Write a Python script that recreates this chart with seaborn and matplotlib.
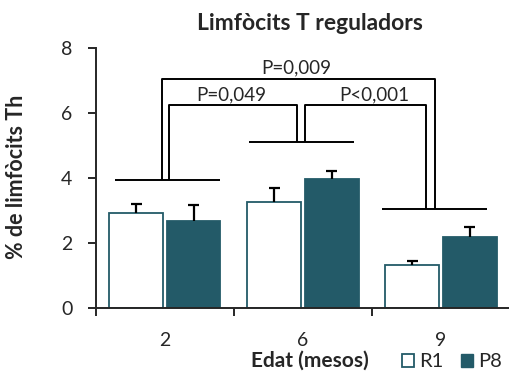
import matplotlib
matplotlib.use("Agg")
import matplotlib.pyplot as plt
from matplotlib.patches import Patch
import seaborn as sns
import pandas as pd

# ---- data ----
ages = ["2", "6", "9"]
groups = ["R1", "P8"]
r1_mean = [2.93, 3.26, 1.32]
r1_err = [0.28, 0.44, 0.14]
p8_mean = [2.68, 3.96, 2.19]
p8_err = [0.48, 0.26, 0.31]
pvals = ["P=0,009", "P=0,049", "P<0,001"]
title = "Limfòcits T reguladors"
ylabel = "% de limfòcits Th"
xlabel = "Edat (mesos)"

teal = "#235A68"

sns.set_style("ticks")
plt.rcParams["font.family"] = ["Lato", "DejaVu Sans"]

df = pd.DataFrame({
    "age": ages * 2,
    "group": [groups[0]] * 3 + [groups[1]] * 3,
    "value": r1_mean + p8_mean,
    "err": r1_err + p8_err,
})

fig = plt.figure(figsize=(5.10, 3.72), dpi=100)
ax = fig.add_axes([0.188, 0.172, 0.812, 0.699])

sns.barplot(data=df, x="age", y="value", hue="group", order=ages,
            hue_order=groups, palette=["white", teal], width=0.83, gap=0.06,
            errorbar=None, legend=False, ax=ax, linewidth=1.3,
            edgecolor=teal, saturation=1)

# error bars (upper only, T-shaped)
cap = 0.04
for container, errs in zip(ax.containers, [r1_err, p8_err]):
    for bar, e in zip(container, errs):
        xc = bar.get_x() + bar.get_width() / 2
        h = bar.get_height()
        ax.vlines(xc, h, h + e, color="black", lw=1.6, zorder=3)
        ax.hlines(h + e, xc - cap, xc + cap, color="black", lw=1.6, zorder=3)

# significance brackets
lk = dict(color="black", lw=1.4, solid_capstyle="butt", clip_on=False)
ax.plot([-0.36, 0.40], [3.95, 3.95], **lk)
ax.plot([0.61, 1.37], [5.12, 5.12], **lk)
ax.plot([1.57, 2.33], [3.04, 3.04], **lk)
ax.plot([-0.022, -0.022, 1.957, 1.957], [3.95, 7.05, 7.05, 3.04], **lk)
ax.plot([0.029, 0.029, 0.957, 0.957], [3.95, 6.25, 6.25, 5.12], **lk)
ax.plot([1.014, 1.014, 1.891, 1.891], [5.12, 6.25, 6.25, 3.04], **lk)
ax.text(0.955, 7.40, pvals[0], ha="center", va="center", fontsize=13.5)
ax.text(0.48, 6.57, pvals[1], ha="center", va="center", fontsize=13.5)
ax.text(1.515, 6.57, pvals[2], ha="center", va="center", fontsize=13.5)

ax.set_xlim(-0.5, 2.5)
ax.set_ylim(0, 8)
ax.set_yticks([0, 2, 4, 6, 8])
ax.tick_params(axis="y", labelsize=14, length=6, width=1.4, pad=11)
ax.set_xticks([0, 1, 2])
ax.set_xticklabels(ages)
ax.tick_params(axis="x", which="major", length=0, labelsize=14, pad=17)
ax.set_xticks([-0.5, 0.5, 1.5], minor=True)
ax.tick_params(axis="x", which="minor", length=6, width=1.4, direction="out")

for s in ["top", "right"]:
    ax.spines[s].set_visible(False)
for s in ["left", "bottom"]:
    ax.spines[s].set_linewidth(1.4)

ax.set_ylabel(ylabel, fontsize=15.5, fontweight="bold")
ax.yaxis.set_label_coords(-0.167, 0.506)
ax.set_xlabel("")
fig.text(0.608, 0.031, xlabel, ha="center", va="center", fontsize=15,
         fontweight="bold")
fig.text(0.608, 0.938, title, ha="center", va="center", fontsize=16.5,
         fontweight="bold")

handles = [Patch(facecolor="white", edgecolor=teal, linewidth=1.3),
           Patch(facecolor=teal, edgecolor=teal)]
fig.legend(handles, groups, loc="center", bbox_to_anchor=(0.886, 0.027),
           ncol=2, frameon=False, fontsize=14.5, handlelength=0.6,
           handleheight=0.6, handletextpad=0.25, columnspacing=0.9,
           borderpad=0, borderaxespad=0)

fig.savefig("out.png", dpi=100)
